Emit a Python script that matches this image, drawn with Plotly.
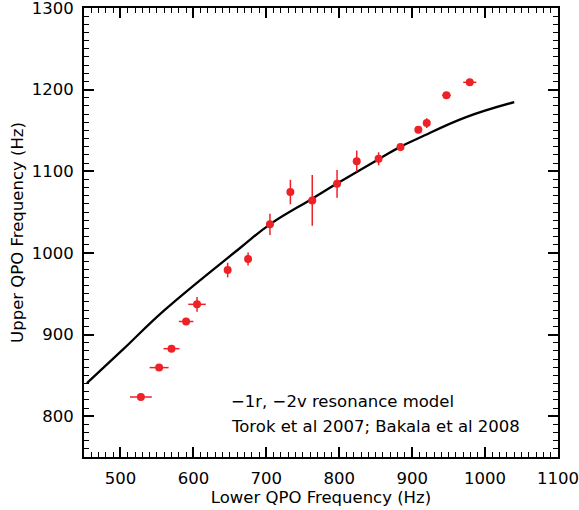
import plotly.graph_objects as go

# Observed QPO pairs
lower_hz = [528, 553, 570, 590, 605, 647, 675, 705, 733, 763, 797, 824, 854, 884, 908.5, 920, 947, 979]
upper_hz = [823.5, 859.5, 882.7, 916, 937, 979, 992.5, 1035, 1074.5, 1064.3, 1084.7, 1112.4, 1115.3, 1129.6, 1151, 1159, 1193, 1209]
lower_err = [15, 13, 11, 10, 12, 2, 2, 2, 2, 2, 2, 2, 3, 3, 2, 3, 6, 9]
upper_err = [2, 2, 2, 4, 9, 9, 8, 13, 15, 31, 17, 13, 8, 5, 3, 6, 2, 2]

# Resonance model curve
model_lower = [454, 505, 560, 664, 705, 763, 798, 855, 883, 910, 974, 1040]
model_upper = [840.5, 883, 929.6, 1006, 1035, 1066.4, 1085.5, 1115.3, 1129.6, 1141, 1166.3, 1184.7]

label_lines = ["\u22121r, \u22122v resonance model", "Torok et al 2007; Bakala et al 2008"]
label_y = [818, 787.6]

FONT = "DejaVu Sans"
FS = 16.5
RED = "#ee2226"

fig = go.Figure()
fig.add_trace(go.Scatter(
    x=model_lower, y=model_upper, mode="lines",
    line=dict(color="black", width=2.3, smoothing=1.2), line_shape="spline",
    showlegend=False, hoverinfo="skip"))
fig.add_trace(go.Scatter(
    x=lower_hz, y=upper_hz, mode="markers",
    marker=dict(color=RED, size=8),
    error_x=dict(type="data", array=lower_err, color=RED, thickness=1.5, width=0),
    error_y=dict(type="data", array=upper_err, color=RED, thickness=1.5, width=0),
    showlegend=False))

for txt, yv in zip(label_lines, label_y):
    fig.add_annotation(x=648.6, y=yv, xref="x", yref="y", text=txt,
                       showarrow=False, xanchor="left", yanchor="middle",
                       font=dict(family=FONT, size=FS, color="black"))

axis_common = dict(
    showgrid=False, zeroline=False, showline=True, linecolor="black", linewidth=2,
    mirror="allticks", ticks="inside", ticklen=10, tickwidth=1.5, tickcolor="black",
    tickfont=dict(family=FONT, size=FS, color="black"), automargin=False,
    ticklabeloverflow="allow",
    minor=dict(ticks="inside", ticklen=5, tickwidth=1.2, tickcolor="black", dtick=10, showgrid=False),
)

fig.update_xaxes(range=[450, 1100], tick0=500, dtick=100,
                 title=dict(text="Lower QPO Frequency (Hz)", font=dict(family=FONT, size=FS, color="black"), standoff=2),
                 ticklabelstandoff=5, **axis_common)
fig.update_yaxes(range=[750, 1300], tick0=800, dtick=100,
                 title=dict(text="Upper QPO Frequency (Hz)", font=dict(family=FONT, size=FS, color="black"), standoff=4),
                 ticklabelstandoff=5, **axis_common)

fig.update_layout(
    width=579, height=510,
    margin=dict(l=84, r=20.5, t=7.5, b=53.3),
    paper_bgcolor="white", plot_bgcolor="white",
    font=dict(family=FONT, color="black"),
)

fig.write_html("out.html")
